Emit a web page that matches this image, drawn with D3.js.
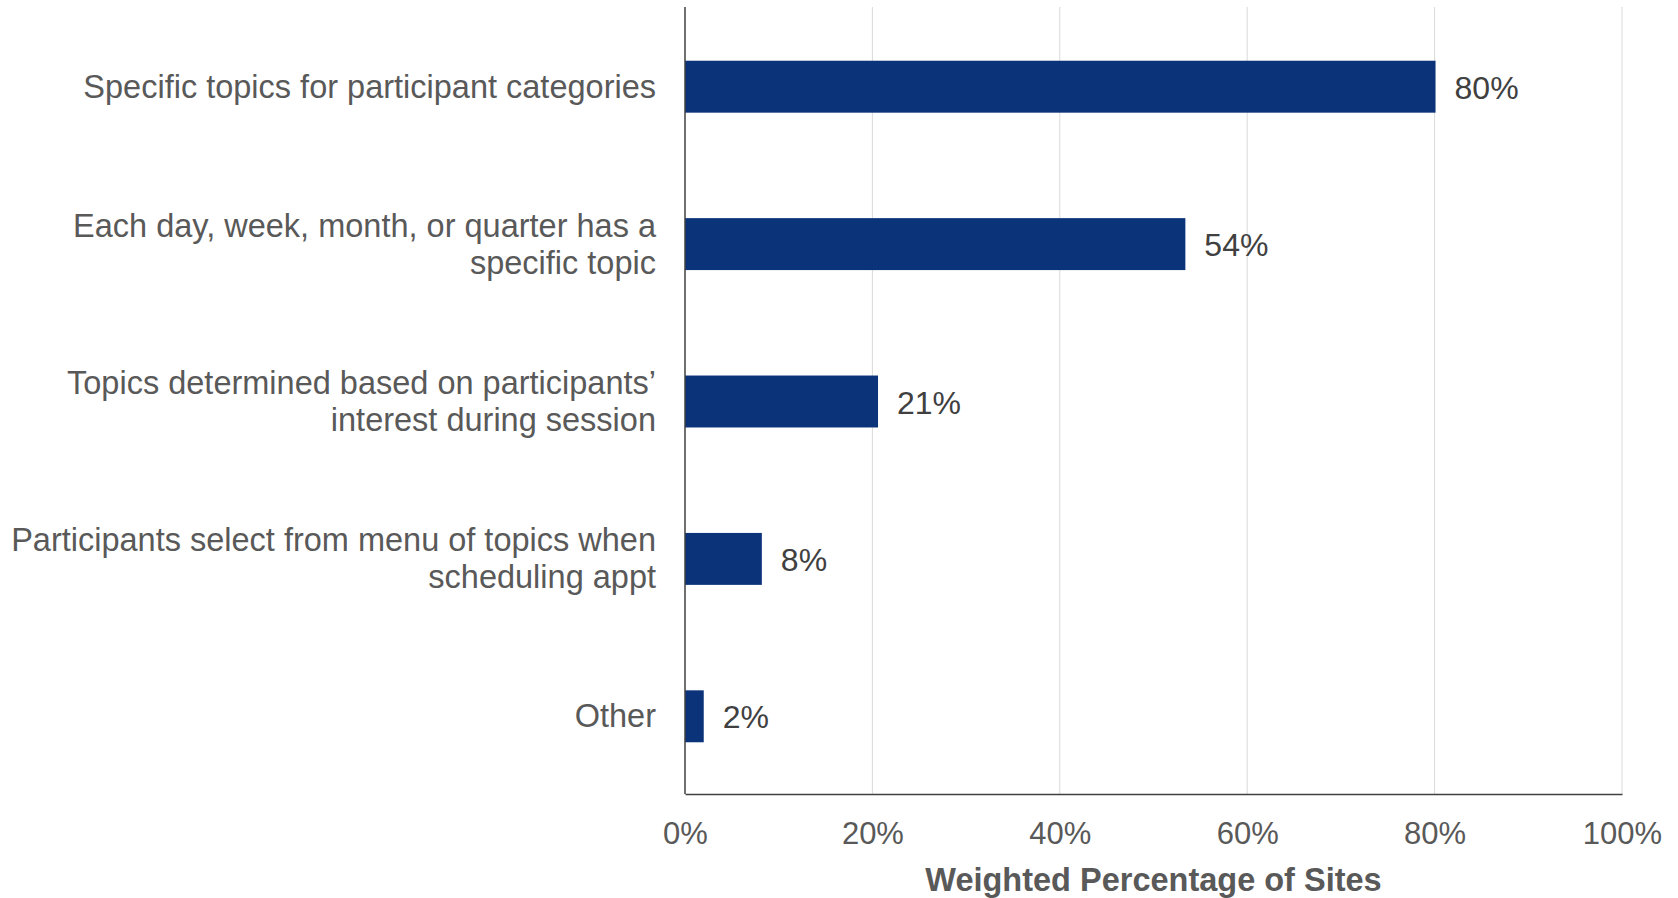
<!DOCTYPE html>
<html>
<head>
<meta charset="utf-8">
<script src="https://cdn.jsdelivr.net/npm/d3@7"></script>
<style>
  body { margin: 0; background: #fff; }
  svg { display: block; font-family: "Liberation Sans", Arial, sans-serif; }
</style>
</head>
<body>
<div id="barChart"></div>
<script>
// chart data
var categories = [
    ["Specific topics for participant categories"],
    ["Each day, week, month, or quarter has a", "specific topic"],
    ["Topics determined based on participants\u2019", "interest during session"],
    ["Participants select from menu of topics when", "scheduling appt"],
    ["Other"]
];
var values = [80.1, 53.4, 20.6, 8.2, 2.0];
var valueLabels = ["80%", "54%", "21%", "8%", "2%"];
var xTicks = [0, 20, 40, 60, 80, 100];
var xTitle = "Weighted Percentage of Sites";

// set the dimensions and margins of the graph
var margin = {top: 7, right: 56, bottom: 104, left: 685},
    width = 1678 - margin.left - margin.right,
    height = 898 - margin.top - margin.bottom;

var x = d3.scaleLinear().domain([0, 100]).range([0, width]);
var y = d3.scaleBand()
    .domain(d3.range(categories.length))
    .range([1, height + 1])
    .paddingInner(0.67)
    .paddingOuter(0.335);

var svg = d3.select("#barChart").append("svg")
    .attr("width", 1678)
    .attr("height", 898)
  .append("g")
    .attr("transform", "translate(" + margin.left + "," + margin.top + ")");

// gridlines
svg.selectAll(".grid")
    .data(xTicks.slice(1))
    .enter().append("line")
    .attr("x1", function(d) { return x(d); })
    .attr("x2", function(d) { return x(d); })
    .attr("y1", 0)
    .attr("y2", height)
    .attr("stroke", "#d9d9d9")
    .attr("stroke-width", 1);

// bars
svg.selectAll(".bar")
    .data(values)
    .enter().append("rect")
    .attr("x", 0)
    .attr("y", function(d, i) { return y(i); })
    .attr("width", function(d) { return x(d); })
    .attr("height", y.bandwidth())
    .attr("fill", "#0b337a");

// value labels
svg.selectAll(".val")
    .data(values)
    .enter().append("text")
    .attr("x", function(d) { return x(d) + 19; })
    .attr("y", function(d, i) { return y(i) + y.bandwidth() / 2 + 12; })
    .attr("fill", "#404040")
    .style("font-size", "32px")
    .text(function(d, i) { return valueLabels[i]; });

// category labels
var lineH = 37;
svg.selectAll(".cat")
    .data(categories)
    .enter().append("text")
    .attr("text-anchor", "end")
    .attr("fill", "#595959")
    .style("font-size", "32.5px")
    .each(function(lines, i) {
        var cy = y(i) + y.bandwidth() / 2 + 11 - (lines.length - 1) * lineH / 2;
        var t = d3.select(this);
        lines.forEach(function(s, j) {
            t.append("tspan")
                .attr("x", -29)
                .attr("y", cy + j * lineH)
                .text(s);
        });
    });

// x axis
var xAxis = svg.append("g")
    .attr("transform", "translate(0," + height + ")")
    .call(d3.axisBottom(x).tickValues(xTicks).tickSize(0).tickPadding(28)
        .tickFormat(function(d) { return d + "%"; }));
xAxis.select(".domain").attr("stroke", "#404040").attr("stroke-width", 1.5);
xAxis.selectAll("text")
    .attr("fill", "#595959")
    .style("font-size", "31px")
    .style("font-family", "Liberation Sans, Arial, sans-serif");

// y axis line
svg.append("line")
    .attr("x1", 0).attr("x2", 0)
    .attr("y1", 0).attr("y2", height)
    .attr("stroke", "#404040")
    .attr("stroke-width", 1.5);

// axis title
svg.append("text")
    .attr("x", width / 2)
    .attr("y", height + 97)
    .attr("text-anchor", "middle")
    .attr("fill", "#595959")
    .style("font-size", "32.5px")
    .style("font-weight", "bold")
    .text(xTitle);
</script>
</body>
</html>
